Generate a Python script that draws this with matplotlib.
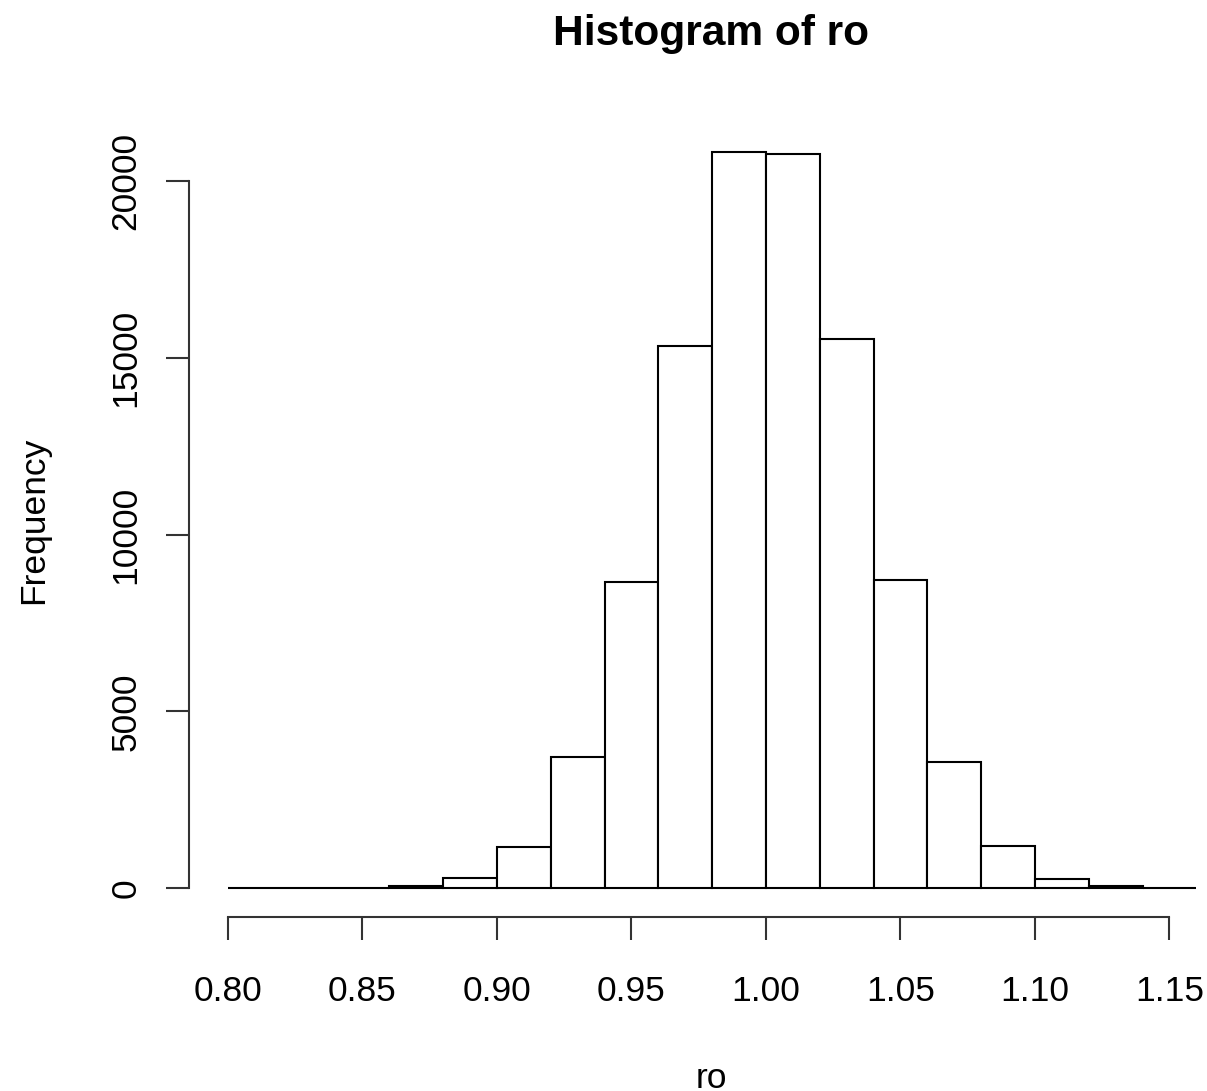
import matplotlib
matplotlib.use("Agg")
import matplotlib.pyplot as plt

# histogram of ro: bin edges and counts
breaks = [0.80, 0.82, 0.84, 0.86, 0.88, 0.90, 0.92, 0.94, 0.96, 0.98,
          1.00, 1.02, 1.04, 1.06, 1.08, 1.10, 1.12, 1.14, 1.16]
counts = [1, 3, 12, 45, 290, 1160, 3706, 8656, 15320, 20810,
          20760, 15540, 8713, 3564, 1175, 260, 45, 4]
xticks = [0.80, 0.85, 0.90, 0.95, 1.00, 1.05, 1.10, 1.15]
xticklabels = ["0.80", "0.85", "0.90", "0.95", "1.00", "1.05", "1.10", "1.15"]
yticks = [0, 5000, 10000, 15000, 20000]
yticklabels = ["0", "5000", "10000", "15000", "20000"]

plt.rcParams["font.family"] = ["Liberation Sans", "DejaVu Sans"]

W, H = 1207, 1091
fig = plt.figure(figsize=(W / 100, H / 100), dpi=100)

# R-style plot region with 4% padding on both axes
span_x = breaks[-1] - breaks[0]
xlim = (breaks[0] - 0.04 * span_x, breaks[-1] + 0.04 * span_x)
ymax = max(counts)
ylim = (-0.04 * ymax, 1.04 * ymax)

px_per_x = 2690.0
px_per_y = 0.03535
left_px = 228 - (breaks[0] - xlim[0]) * px_per_x
right_px = left_px + (xlim[1] - xlim[0]) * px_per_x
bottom_px = 888 + (0 - ylim[0]) * px_per_y
top_px = bottom_px - (ylim[1] - ylim[0]) * px_per_y

ax = fig.add_axes([left_px / W, 1 - bottom_px / H,
                   (right_px - left_px) / W, (bottom_px - top_px) / H])
ax.set_xlim(*xlim)
ax.set_ylim(*ylim)

widths = [b - a for a, b in zip(breaks[:-1], breaks[1:])]
ax.bar(breaks[:-1], counts, width=widths, align="edge",
       facecolor="white", edgecolor="black", linewidth=1.5)

for side in ["top", "right"]:
    ax.spines[side].set_visible(False)
ax.spines["left"].set_bounds(yticks[0], yticks[-1])
ax.spines["bottom"].set_bounds(xticks[0], xticks[-1])
for side in ["left", "bottom"]:
    ax.spines[side].set_linewidth(1.5)
    ax.spines[side].set_color("#333333")

ax.set_xticks(xticks)
ax.set_xticklabels(xticklabels, fontsize=25.5)
ax.set_yticks(yticks)
ax.set_yticklabels(yticklabels, fontsize=25.5, rotation=90, va="center")
ax.tick_params(axis="both", direction="out", length=16.5, width=1.5,
               color="#333333")
ax.tick_params(axis="x", pad=25)
ax.tick_params(axis="y", pad=17)

fig.text(711 / W, 1 - 45 / H, "Histogram of ro", fontsize=30.6,
         fontweight="bold", ha="center", va="baseline")
fig.text(711 / W, 1 - 1088 / H, "ro", fontsize=25.5,
         ha="center", va="baseline")
fig.text(43 / W, 1 - 520 / H, "Frequency", fontsize=25.5, rotation=90,
         rotation_mode="anchor", ha="center", va="baseline")

fig.savefig("out.png", dpi=100)
